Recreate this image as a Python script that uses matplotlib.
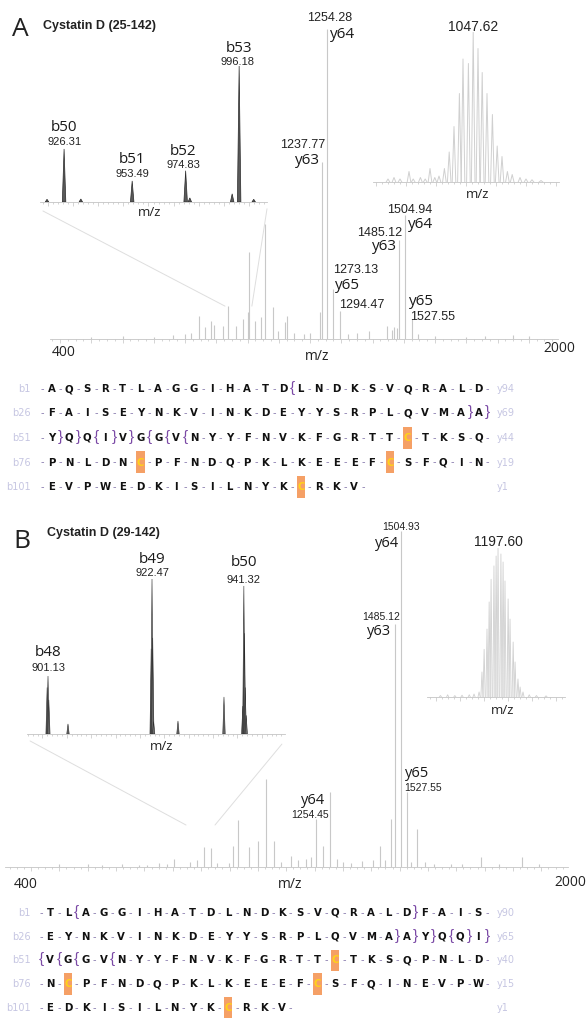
import numpy as np
import matplotlib.pyplot as plt
from matplotlib.patches import Rectangle, ConnectionPatch
from matplotlib.ticker import MultipleLocator

W, H = 587, 1020
NUM = 'Liberation Sans'
ION = 'Open Sans'
SEQ = 'DejaVu Sans'
GREY = '#c8c8c8'
LIGHT = '#d0d0d0'

# ---------------- panel A : main spectrum (relative intensity, %)
a_mz = [845, 864, 883, 893, 922, 938, 963, 986, 1002, 1005, 1024, 1043, 1056, 1082, 1098,
        1120, 1126, 1232, 1237.77, 1254.28, 1273.13, 1294.47, 1390, 1446, 1462, 1470, 1478,
        1485.12, 1504.94, 1527.55, 1545, 1850, 1900]
a_int = [7.4, 3.9, 5.8, 4.5, 4.2, 10.6, 4.2, 6.5, 8.7, 28, 5.8, 7.1, 37, 10.3, 2.6,
         5.5, 7.4, 8.7, 57, 100, 16, 9, 2.6, 4.2, 3, 4, 3.5,
         32, 40, 6.5, 1.6, 1.3, 1.0]
a_noise_mz = [500, 600, 700, 760, 800, 820, 1150, 1180, 1200, 1320, 1350, 1600, 1700, 1760]
a_noise_int = [0.8, 1, 0.8, 1.2, 1.5, 2, 2, 1.5, 2, 1.5, 2, 1, 0.8, 1]
a_lab_mz = [1254.28, 1237.77, 1504.94, 1485.12, 1273.13, 1294.47, 1527.55]
a_lab_ion = ['y64', 'y63', 'y64', 'y63', 'y65', '', 'y65']

# panel A : b-ion zoom
a_b_mz = [919.5, 926.31, 933.0, 953.49, 974.83, 976.5, 993.4, 996.18, 1002.0]
a_b_int = [2, 39, 2.2, 15.5, 23, 3, 6, 100, 2]
a_b_lab_mz = [926.31, 953.49, 974.83, 996.18]
a_b_lab_ion = ['b50', 'b51', 'b52', 'b53']

# panel A : isotope envelope
a_iso_mz = [1046.2, 1046.3, 1046.4, 1046.55, 1046.62, 1046.74, 1046.82, 1046.90, 1046.98,
            1047.05, 1047.14, 1047.22, 1047.30, 1047.39, 1047.45, 1047.54, 1047.62, 1047.70,
            1047.77, 1047.85, 1047.94, 1048.02, 1048.10, 1048.19, 1048.27, 1048.40, 1048.5,
            1048.6, 1048.75]
a_iso_int = [2, 3, 2, 7, 2, 3, 2, 9, 3,
             4, 9, 20, 37, 59, 82, 79, 100, 89,
             73, 59, 45, 24, 17, 7, 5, 3, 2,
             1.5, 1]

# ---------------- panel B : main spectrum
b_mz = [610, 704, 785, 810, 834, 856, 898, 912, 930, 969, 1001, 1029, 1057, 1117, 1170, 1187,
        1205, 1230, 1254.45, 1279, 1367, 1406, 1431, 1470, 1485.12, 1504.93, 1527.55, 1561,
        1590, 1787, 1932]
b_int = [0.6, 2.4, 2.1, 6, 5.7, 1.2, 1.2, 6.3, 14, 6, 7.7, 26.2, 7.7, 3.3, 2.4, 3,
         14.3, 6.3, 22.3, 2.4, 1.8, 2.1, 6.3, 14.3, 72.3, 100, 22.3, 11.3,
         1.5, 3, 3]
b_noise_mz = [300, 400, 450, 520, 580, 650, 680, 760, 1080, 1140, 1300, 1330, 1450, 1540,
              1620, 1680, 1720, 1850, 1990]
b_noise_int = [0.8, 1, 0.6, 0.8, 0.7, 1.2, 1.0, 1.5, 1.5, 2, 1.5, 1.2, 2, 1.5,
               1, 0.8, 1, 1, 0.8]
b_lab_mz = [1504.93, 1485.12, 1527.55, 1254.45]
b_lab_ion = ['y64', 'y63', 'y65', 'y64']

# panel B : b-ion zoom
b_b_mz = [900.95, 901.13, 901.3, 905.23, 922.3, 922.47, 922.62, 922.8, 927.8, 937.24,
          941.1, 941.32, 941.45, 941.6, 941.8]
b_b_int = [30, 37.4, 22, 6.5, 55, 100, 62, 8, 8.4, 23.9,
           18, 95.5, 65, 30, 12]
b_b_lab_mz = [901.13, 922.47, 941.32]
b_b_lab_ion = ['b48', 'b49', 'b50']

# panel B : isotope envelope
b_iso_mz = [1195.2, 1195.5, 1195.8, 1196.1, 1196.4, 1196.6, 1196.81, 1196.93, 1197.02,
            1197.14, 1197.23, 1197.31, 1197.43, 1197.52, 1197.60, 1197.72, 1197.81, 1197.89,
            1198.02, 1198.10, 1198.23, 1198.31, 1198.43, 1198.52, 1198.64, 1198.9, 1199.2,
            1199.6]
b_iso_int = [1, 1.5, 1, 1.2, 1.5, 2, 3.4, 16.8, 32,
             45.6, 63.8, 79, 88, 94.6, 100, 96, 90.6, 77.9,
             65.8, 52.3, 36.9, 23.5, 12.1, 6.7, 3.4, 1.5, 1,
             0.8]

# ---------------- sequences
a_seq = ['AQSRTLAGGIHATDLNDKSVQRALD',
         'FAISEYNKVINKDEYYSRPLQVMAA',
         'YQQIVGGVNYYFNVKFGRTTCTKSQ',
         'PNLDNCPFNDQPKLKEEEFCSFQIN',
         'EVPWEDKISILNYKCRKV']
a_left = ['b1', 'b26', 'b51', 'b76', 'b101']
a_right = ['y94', 'y69', 'y44', 'y19', 'y1']
a_marks = [{14: '{'}, {24: '}', 25: '}'},
           {1: '}', 2: '}', 3: '{', 4: '}', 5: '}', 6: '{', 7: '{', 8: '{'}, {}, {}]

b_seq = ['TLAGGIHATDLNDKSVQRALDFAIS',
         'EYNKVINKDEYYSRPLQVMAAYQQI',
         'VGGVNYYFNVKFGRTTCTKSQPNLD',
         'NCPFNDQPKLKEEEFCSFQINEVPW',
         'EDKISILNYKCRKV']
b_left = ['b1', 'b26', 'b51', 'b76', 'b101']
b_right = ['y90', 'y65', 'y40', 'y15', 'y1']
b_marks = [{2: '{', 21: '}'},
           {20: '}', 21: '}', 22: '}', 23: '{', 24: '}', 25: '}'},
           {0: '{', 1: '{', 2: '{', 4: '{'}, {}, {}]

fig = plt.figure(figsize=(W / 100, H / 100), dpi=100)
fig.patch.set_facecolor('white')


def px_axes(x0, y0, x1, y1):
    return fig.add_axes([x0 / W, 1 - y1 / H, (x1 - x0) / W, (y1 - y0) / H])


def spec_axes(box, xlim, ylim, major, minor):
    ax = px_axes(*box)
    ax.set_xlim(*xlim)
    ax.set_ylim(*ylim)
    ax.patch.set_visible(False)
    for s in ('top', 'left', 'right'):
        ax.spines[s].set_visible(False)
    ax.spines['bottom'].set_color('#c4c4c4')
    ax.spines['bottom'].set_linewidth(0.6)
    ax.set_yticks([])
    ax.xaxis.set_major_locator(MultipleLocator(major))
    ax.xaxis.set_minor_locator(MultipleLocator(minor))
    ax.tick_params(axis='x', which='both', direction='out', colors='#c4c4c4',
                   labelbottom=False, width=0.5)
    ax.tick_params(axis='x', which='major', length=3)
    ax.tick_params(axis='x', which='minor', length=1.5)
    return ax


def sticks(ax, mz, inten, color=GREY, lw=0.8):
    ax.vlines(mz, 0, inten, color=color, lw=lw)


def spikes(ax, mz, inten, hw, fc, ec, lw=0.5):
    for m, h in zip(mz, inten):
        ax.fill([m - hw, m, m + hw], [0, h, 0], fc=fc, ec=ec, lw=lw)


def envelope(ax, mz, inten, hw, color=LIGHT, lw=0.7):
    for m, h in zip(mz, inten):
        ax.plot([m - hw, m, m + hw], [0, h, 0], color=color, lw=lw)


def labels(ax, mz, inten, lab_mz, ions, ion_off, num_off, ion_fs, num_fs):
    for m, ion, io, no in zip(lab_mz, ions, ion_off, num_off):
        h = inten[mz.index(m)]
        if ion:
            ax.annotate(ion, (m, h), xytext=io, textcoords='offset pixels', ha='center',
                        va='center', fontsize=ion_fs, family=ION, color='#1a1a1a')
        ax.annotate(f'{m:.2f}', (m, h), xytext=no, textcoords='offset pixels', ha='center',
                    va='center', fontsize=num_fs, family=NUM, color='#222222')


def ftext(x, y, s, **kw):
    fig.text(x / W, 1 - y / H, s, **kw)


# ================= PANEL A
axA = spec_axes((50, 20, 558, 340), (368, 1993.6), (0, 103.2), 100, 25)
sticks(axA, a_noise_mz, a_noise_int)
sticks(axA, a_mz, a_int)
labels(axA, a_mz, a_int, a_lab_mz, a_lab_ion,
       [(16, -5), (-14, 3), (15, -9), (-15, -6), (15, 5), (0, 0), (9, 18)],
       [(3, 12), (-19, 18), (4, 6), (-19, 8), (23, 20), (22, 7), (20, 3)], 11, 9)

axAb = spec_axes((40, 67, 267, 203), (916.7, 1007.3), (0, 100), 10, 2)
spikes(axAb, a_b_mz, a_b_int, 0.7, '#5a5a5a', '#2a2a2a')
labels(axAb, a_b_mz, a_b_int, a_b_lab_mz, a_b_lab_ion,
       [(0, 22), (0, 22), (-3, 20), (0, 19)], [(0, 8), (0, 8), (-2, 7), (-2, 5)], 11, 8)

axAi = spec_axes((373, 33, 559, 183), (1045.95, 1049.05), (0, 100), 0.5, 0.1)
envelope(axAi, a_iso_mz, a_iso_int, 0.03)
axAi.annotate('1047.62', (1047.62, 100), xytext=(0, 6), textcoords='offset pixels',
              ha='center', va='center', fontsize=10, family=NUM, color='#222222')

for xa, xb in [((0.013, -0.066), (928, 10.6)), ((1.0, -0.05), (1014, 10.6))]:
    fig.add_artist(ConnectionPatch(xa, xb, coordsA=axAb.transAxes, coordsB=axA.transData,
                                   color='#dedede', lw=0.7))

ftext(12, 30, 'A', fontsize=19, family=ION, va='center', ha='left', color='#222222')
ftext(43, 26, 'Cystatin D (25-142)', fontsize=9, family=NUM, fontweight='bold',
      va='center', ha='left', color='#222222')
ftext(64, 353, '400', fontsize=10, family=ION, ha='center', va='center', color='#222222')
ftext(559, 349, '2000', fontsize=10, family=ION, ha='center', va='center', color='#222222')
ftext(317, 357, 'm/z', fontsize=10, family=ION, ha='center', va='center', color='#222222')
ftext(150, 213, 'm/z', fontsize=9.5, family=ION, ha='center', va='center', color='#222222')
ftext(478, 195, 'm/z', fontsize=9.5, family=ION, ha='center', va='center', color='#222222')

# ================= PANEL B
axB = spec_axes((5, 520, 568, 868), (108.1, 2093.9), (0, 103.6), 100, 25)
sticks(axB, b_noise_mz, b_noise_int)
sticks(axB, b_mz, b_int)
labels(axB, b_mz, b_int, b_lab_mz, b_lab_ion,
       [(-14, -11), (-16, -6), (10, 20), (-17, -7)],
       [(0, 5), (-14, 8), (16, 5), (-20, -22)], 10.5, 7.5)

axBb = spec_axes((27, 580, 285, 735), (896.82, 949.76), (0, 100), 5, 1)
spikes(axBb, b_b_mz, b_b_int, 0.25, '#6a6a6a', '#2a2a2a', 0.4)
labels(axBb, b_b_mz, b_b_int, b_b_lab_mz, b_b_lab_ion,
       [(0, 25), (0, 20), (0, 24)], [(0, 9), (0, 7), (0, 7)], 11, 8)

axBi = spec_axes((427, 549, 565, 698), (1194.64, 1200.39), (0, 100), 1, 0.25)
envelope(axBi, b_iso_mz, b_iso_int, 0.045, lw=0.6)
axBi.annotate('1197.60', (1197.60, 100), xytext=(0, 7), textcoords='offset pixels',
              ha='center', va='center', fontsize=10, family=NUM, color='#222222')

for xa, xb in [((0.012, -0.045), (746.5, 12.5)), ((0.988, -0.065), (848.8, 12.5))]:
    fig.add_artist(ConnectionPatch(xa, xb, coordsA=axBb.transAxes, coordsB=axB.transData,
                                   color='#dedede', lw=0.7))

ftext(13, 541, 'B', fontsize=19, family=ION, va='center', ha='left', color='#222222')
ftext(47, 533, 'Cystatin D (29-142)', fontsize=9, family=NUM, fontweight='bold',
      va='center', ha='left', color='#222222')
ftext(26, 884, '400', fontsize=10, family=ION, ha='center', va='center', color='#222222')
ftext(570, 882, '2000', fontsize=10, family=ION, ha='center', va='center', color='#222222')
ftext(290, 885, 'm/z', fontsize=10, family=ION, ha='center', va='center', color='#222222')
ftext(162, 747, 'm/z', fontsize=9.5, family=ION, ha='center', va='center', color='#222222')
ftext(503, 711, 'm/z', fontsize=9.5, family=ION, ha='center', va='center', color='#222222')


# ================= sequences
def draw_seq(box, x0, step, y_first, y_step, rows, left, right, marks):
    ax = px_axes(*box)
    ax.axis('off')
    ax.set_xlim((box[0] - x0) / step, (box[2] - x0) / step)
    ax.set_ylim(len(rows) - 1 + (box[3] - y_first - (len(rows) - 1) * y_step) / y_step,
                -(y_first - box[1]) / y_step)
    xl = (31 - x0) / step
    xr = (497 - x0) / step
    for r, seq in enumerate(rows):
        ax.text(xl, r, left[r], ha='right', va='center', fontsize=7, family=SEQ,
                color='#c6c6e2')
        ax.text(xr, r, right[r], ha='left', va='center', fontsize=7, family=SEQ,
                color='#c6c6e2')
        for i, aa in enumerate(seq):
            col = '#111111'
            if aa == 'C':
                ax.add_patch(Rectangle((i - 0.23, r - 0.42), 0.46, 0.9, fc='#f5a066',
                                       ec='none'))
                col = '#ffd21a'
            ax.text(i, r, aa, ha='center', va='center', fontsize=7.3, family=SEQ,
                    fontweight='bold', color=col)
        for k in range(len(seq) + 1):
            m = marks[r].get(k)
            if m:
                ax.text(k - 0.5, r - 0.05, m, ha='center', va='center', fontsize=11,
                        family=NUM, color='#7b4aa6')
            else:
                ax.text(k - 0.5, r, '-', ha='center', va='center', fontsize=7,
                        family=SEQ, color='#8a7cae')
    return ax


draw_seq((0, 375, 587, 500), 51.5, 17.8, 389, 24.5, a_seq, a_left, a_right, a_marks)
draw_seq((0, 898, 587, 1020), 50, 17.83, 913, 23.75, b_seq, b_left, b_right, b_marks)

fig.savefig('out.png', dpi=100)
